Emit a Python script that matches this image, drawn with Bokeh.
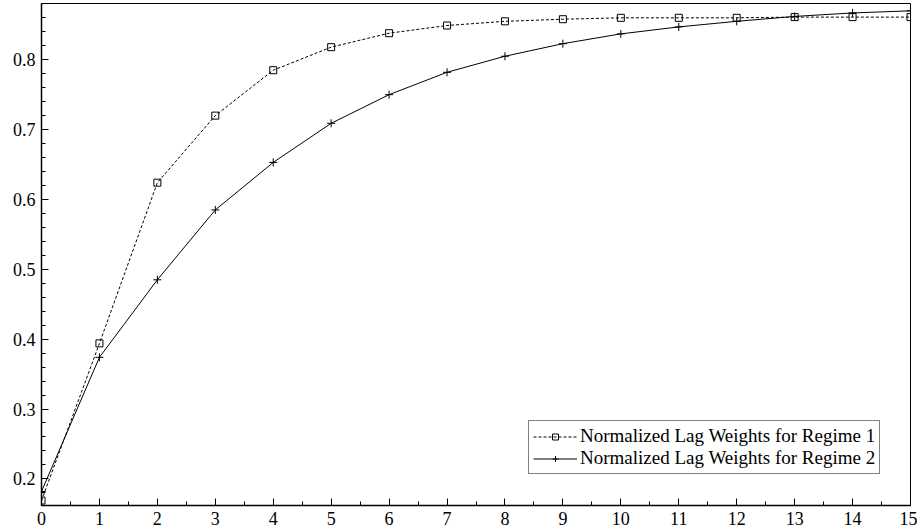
from bokeh.plotting import figure
from bokeh.models import Legend, LegendItem, Range1d, FixedTicker, ColumnDataSource
from bokeh.embed import file_html
from bokeh.resources import INLINE

lags = list(range(16))
regime1 = [0.169, 0.394, 0.624, 0.720, 0.785, 0.818, 0.838, 0.849, 0.855, 0.858,
           0.860, 0.860, 0.860, 0.861, 0.861, 0.861]
regime2 = [0.182, 0.374, 0.485, 0.585, 0.653, 0.709, 0.750, 0.782, 0.805, 0.823,
           0.837, 0.847, 0.855, 0.862, 0.867, 0.870]
x_ticks = list(range(16))
y_ticks = [0.2, 0.3, 0.4, 0.5, 0.6, 0.7, 0.8]
label1 = "Normalized Lag Weights for Regime 1"
label2 = "Normalized Lag Weights for Regime 2"

FONT = "Liberation Serif"

p = figure(frame_width=869, frame_height=502, output_backend="svg", toolbar_location=None,
           x_range=Range1d(0, 15), y_range=Range1d(0.1619, 0.8805),
           min_border_left=41, min_border_right=7, min_border_top=3, min_border_bottom=18)
p.background_fill_color = "white"
p.border_fill_color = "white"
p.outline_line_color = "black"
p.outline_line_width = 1
p.grid.visible = False

src1 = ColumnDataSource(dict(x=lags, y=regime1))
src2 = ColumnDataSource(dict(x=lags, y=regime2))

l1 = p.line("x", "y", source=src1, line_color="black", line_width=1, line_dash="3 2")
m1 = p.scatter("x", "y", source=src1, marker="square", size=7, fill_color=None,
               line_color="black", line_width=1)
l2 = p.line("x", "y", source=src2, line_color="black", line_width=1)
m2 = p.scatter("x", "y", source=src2, marker="cross", size=8, line_color="black", line_width=1)

for ax in (p.xaxis[0], p.yaxis[0]):
    ax.axis_line_color = "black"
    ax.axis_line_width = 1.5
    ax.major_tick_in = 7
    ax.major_tick_out = 0
    ax.minor_tick_in = 4
    ax.minor_tick_out = 0
    ax.major_tick_line_color = "black"
    ax.minor_tick_line_color = "black"
    ax.major_label_text_font = FONT
    ax.major_label_text_font_size = "18px"
    ax.major_label_text_color = "black"

p.xaxis[0].ticker = FixedTicker(ticks=x_ticks, minor_ticks=[t + 0.5 for t in x_ticks[:-1]])
p.xaxis[0].major_label_standoff = 6
yminor = [round(0.16 + 0.02 * i, 2) for i in range(37)]
p.yaxis[0].ticker = FixedTicker(ticks=y_ticks, minor_ticks=yminor)
p.yaxis[0].major_label_standoff = 6

legend = Legend(items=[LegendItem(label=label1, renderers=[l1, m1]),
                       LegendItem(label=label2, renderers=[l2, m2])],
                location=(487, 31))
legend.label_text_font = FONT
legend.label_text_font_size = "19px"
legend.label_text_line_height = 0.8
legend.label_text_color = "black"
legend.label_height = 15
legend.glyph_height = 15
legend.glyph_width = 44
legend.label_standoff = 3
legend.spacing = 0
legend.padding = 4
legend.margin = 0
legend.border_line_color = "black"
legend.border_line_width = 1
legend.background_fill_color = "white"
legend.background_fill_alpha = 1
p.add_layout(legend, "center")

open("out.html", "w").write(file_html(p, INLINE))
